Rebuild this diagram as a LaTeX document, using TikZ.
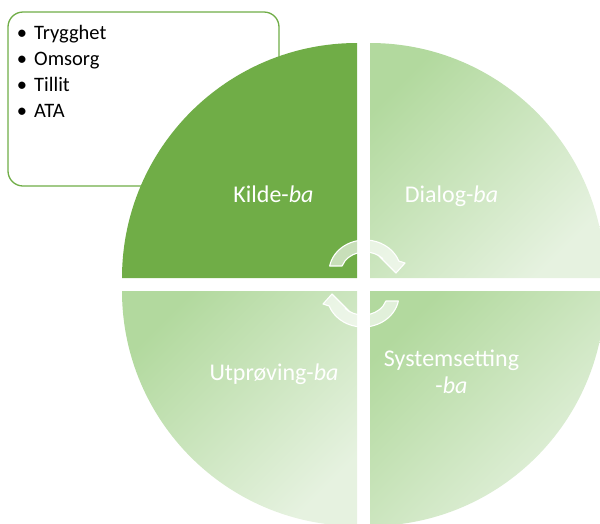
\documentclass[tikz,border=0pt]{standalone}
\usepackage{fontspec}
\setmainfont{Carlito}
\usetikzlibrary{calc}
\definecolor{kildegreen}{HTML}{70AD47}
\definecolor{qdark}{HTML}{B2D99E}
\definecolor{qlight}{HTML}{E6F2E0}
\begin{document}
\begin{tikzpicture}[x=1pt,y=-1pt,
  quarter/.style={shading=axis, top color=qdark, bottom color=qlight, shading angle=45},
  listbox/.style={draw=kildegreen, line width=1.3pt, fill=white, rounded corners=15pt},
  listitem/.style={anchor=base west, inner sep=0pt, font=\fontsize{20.5}{24}\selectfont},
  bulletmark/.style={anchor=base, inner sep=0pt, font=\fontsize{20.5}{24}\selectfont},
  qlabel/.style={anchor=base, inner sep=0pt, text=white, align=center, font=\fontsize{24}{27}\selectfont},
  cyclearrow/.style={draw=white, line width=1.1pt, fill=white, fill opacity=0.62, line join=round}]
\useasboundingbox (0,0) rectangle (600,523);
\clip (0,0) rectangle (600,523);

% list box behind the circle
\draw[listbox] (8,12) rectangle (279,186);
\node[bulletmark] (b1) at (22,39) {•};
\node[bulletmark] (b2) at (22,65.3) {•};
\node[bulletmark] (b3) at (22,91.6) {•};
\node[bulletmark] (b4) at (22,117.9) {•};
\node[listitem] (t1) at (34,39) {Trygghet};
\node[listitem] (t2) at (34,65.3) {Omsorg};
\node[listitem] (t3) at (34,91.6) {Tillit};
\node[listitem] (t4) at (34,117.9) {ATA};

% four quarters of the circle
\fill[kildegreen] (357,278) -- ++(-235,0) arc[start angle=180, end angle=270, radius=235] -- cycle;
\shade[quarter] (370,278) -- ++(0,-235) arc[start angle=270, end angle=360, radius=235] -- cycle;
\shade[quarter] (370,291) -- ++(235,0) arc[start angle=0, end angle=90, radius=235] -- cycle;
\shade[quarter] (357,291) -- ++(0,235) arc[start angle=90, end angle=180, radius=235] -- cycle;

% labels (the two-line label is anchored on its last line)
\node[qlabel] (kilde) at (273.5,202) {Kilde-\textit{ba}};
\node[qlabel] (dialog) at (451.5,202) {Dialog-\textit{ba}};
\node[qlabel] (utproving) at (274,380) {Utprøving-\textit{ba}};
\node[qlabel] (system) at (451.5,393) {Systemsetting\\-\textit{ba}};

% circular arrows in the middle
\draw[cyclearrow] ($(365,272)+(190.8:36 and 32)$)
  arc[start angle=190.8, end angle=340, x radius=36, y radius=32]
  -- (405,263) -- (396,273) -- (378,255)
  -- ($(365,272)+(318:24 and 20)$)
  arc[start angle=318, end angle=197.5, x radius=24, y radius=20] -- cycle;
\begin{scope}[rotate around={180:(364,283.5)}]
\draw[cyclearrow] ($(365,272)+(190.8:36 and 32)$)
  arc[start angle=190.8, end angle=340, x radius=36, y radius=32]
  -- (405,263) -- (396,273) -- (378,255)
  -- ($(365,272)+(318:24 and 20)$)
  arc[start angle=318, end angle=197.5, x radius=24, y radius=20] -- cycle;
\end{scope}
\end{tikzpicture}
\end{document}
